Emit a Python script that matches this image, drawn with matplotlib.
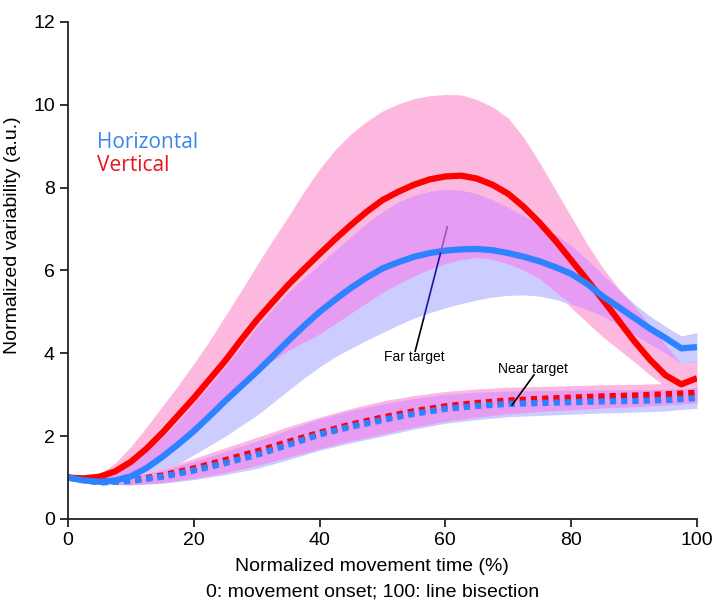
import numpy as np
import matplotlib
matplotlib.use('Agg')
import matplotlib.pyplot as plt

plt.rcParams['font.family'] = ['Liberation Sans', 'DejaVu Sans']

# normalized movement time (%), far target curves
t_far = [0, 2.5, 5, 7.5, 10, 12.5, 15, 17.5, 20, 22.5, 25, 27.5, 30, 32.5, 35, 37.5, 40,
         42.5, 45, 47.5, 50, 52.5, 55, 57.5, 60, 62.5, 65, 67.5, 70, 72.5, 75, 77.5, 80,
         82.5, 85, 87.5, 90, 92.5, 95, 97.5, 100]

# far target, vertical (red)
far_v_mean = [1.0, 0.98, 1.02, 1.15, 1.38, 1.7, 2.08, 2.5, 2.92, 3.37, 3.82, 4.32, 4.8,
              5.23, 5.65, 6.03, 6.4, 6.76, 7.1, 7.42, 7.7, 7.9, 8.07, 8.2, 8.27, 8.29,
              8.22, 8.07, 7.85, 7.53, 7.15, 6.72, 6.25, 5.78, 5.3, 4.8, 4.3, 3.85, 3.47,
              3.25, 3.4]
far_v_hi = [1.0, 1.0, 1.08, 1.35, 1.75, 2.22, 2.72, 3.22, 3.75, 4.3, 4.9, 5.5, 6.12, 6.72,
            7.3, 7.9, 8.45, 8.92, 9.3, 9.6, 9.85, 10.02, 10.15, 10.22, 10.25, 10.24, 10.13,
            9.95, 9.68, 9.2, 8.6, 7.95, 7.3, 6.65, 6.07, 5.58, 5.15, 4.68, 4.2, 3.75, 3.8]
far_v_lo = [1.0, 0.96, 0.95, 1.0, 1.08, 1.25, 1.5, 1.78, 2.08, 2.43, 2.8, 3.15, 3.5, 3.8,
            4.05, 4.25, 4.45, 4.7, 4.95, 5.2, 5.45, 5.66, 5.85, 6.02, 6.15, 6.25, 6.3,
            6.26, 6.15, 6.0, 5.8, 5.48, 5.1, 4.75, 4.4, 4.1, 3.8, 3.48, 3.2, 3.0, 3.05]

# far target, horizontal (blue)
far_h_mean = [1.0, 0.93, 0.9, 0.93, 1.03, 1.23, 1.5, 1.8, 2.12, 2.48, 2.85, 3.2, 3.55,
              3.92, 4.3, 4.66, 5.0, 5.3, 5.58, 5.83, 6.05, 6.2, 6.33, 6.42, 6.48, 6.51,
              6.52, 6.49, 6.42, 6.33, 6.22, 6.08, 5.92, 5.68, 5.38, 5.12, 4.86, 4.6, 4.37,
              4.12, 4.15]
far_h_hi = [1.0, 0.98, 0.98, 1.1, 1.3, 1.6, 1.95, 2.33, 2.75, 3.2, 3.65, 4.12, 4.6, 5.03,
            5.45, 5.8, 6.12, 6.47, 6.8, 7.12, 7.4, 7.63, 7.8, 7.9, 7.95, 7.93, 7.85, 7.7,
            7.52, 7.32, 7.1, 6.86, 6.6, 6.27, 5.9, 5.55, 5.2, 4.9, 4.65, 4.42, 4.5]
far_h_lo = [1.0, 0.9, 0.85, 0.85, 0.9, 1.0, 1.15, 1.33, 1.55, 1.77, 2.0, 2.25, 2.5, 2.8,
            3.1, 3.4, 3.67, 3.92, 4.12, 4.32, 4.5, 4.68, 4.85, 4.98, 5.1, 5.2, 5.29, 5.36,
            5.4, 5.41, 5.38, 5.3, 5.18, 5.05, 4.9, 4.68, 4.45, 4.22, 4.0, 3.75, 3.78]

# near target curves
t_near = [0, 5, 10, 15, 20, 25, 30, 35, 40, 45, 50, 55, 60, 65, 70, 75, 80, 85, 90, 95, 98, 100]
near_v_mean = [1.0, 0.9, 0.93, 1.05, 1.22, 1.42, 1.63, 1.86, 2.08, 2.28, 2.45, 2.6, 2.72,
               2.8, 2.86, 2.9, 2.93, 2.96, 2.98, 3.01, 3.03, 3.05]
near_v_sd = [0.0, 0.05, 0.1, 0.17, 0.24, 0.3, 0.34, 0.37, 0.38, 0.39, 0.4, 0.38, 0.36,
             0.34, 0.32, 0.3, 0.29, 0.28, 0.27, 0.26, 0.25, 0.25]
near_h_mean = [1.0, 0.88, 0.92, 1.02, 1.17, 1.35, 1.55, 1.79, 2.04, 2.23, 2.39, 2.54, 2.66,
               2.73, 2.78, 2.8, 2.82, 2.84, 2.85, 2.87, 2.9, 2.92]
near_h_sd = [0.0, 0.05, 0.1, 0.16, 0.22, 0.28, 0.33, 0.36, 0.38, 0.39, 0.39, 0.37, 0.35,
             0.33, 0.31, 0.3, 0.29, 0.28, 0.27, 0.26, 0.25, 0.25]

RED = '#ff0000'
BLUE = '#2d82ff'
PINK = '#fdb8df'
LAV = '#ccccff'
MIX = '#e69cf2'


def bands(ax, x, lo_v, hi_v, lo_h, hi_h):
    x = np.asarray(x, float)
    lo_v, hi_v = np.asarray(lo_v), np.asarray(hi_v)
    lo_h, hi_h = np.asarray(lo_h), np.asarray(hi_h)
    ax.fill_between(x, lo_v, hi_v, color=PINK, lw=0)
    ax.fill_between(x, lo_h, hi_h, color=LAV, lw=0)
    lo = np.maximum(lo_v, lo_h)
    hi = np.minimum(hi_v, hi_h)
    ax.fill_between(x, lo, hi, where=hi > lo, interpolate=True, color=MIX, lw=0)


fig = plt.figure(figsize=(7.2, 6.06), dpi=100)
ax = fig.add_axes([0.0944, 0.1436, 0.8736, 0.8201])

bands(ax, t_far, far_v_lo, far_v_hi, far_h_lo, far_h_hi)
nv = np.array(near_v_mean); nvs = np.array(near_v_sd)
nh = np.array(near_h_mean); nhs = np.array(near_h_sd)
bands(ax, t_near, nv - nvs, nv + nvs, nh - nhs, nh + nhs)

dot = (0, (1, 0.8))
ax.plot(t_near, near_v_mean, color=RED, lw=4.5, ls=dot, dash_capstyle='butt')
ax.plot(t_near, near_h_mean, color=BLUE, lw=4.5, ls=dot, dash_capstyle='butt')
ax.plot(t_far, far_v_mean, color=RED, lw=4.5, solid_capstyle='butt', solid_joinstyle='round')
ax.plot(t_far, far_h_mean, color=BLUE, lw=4.5, solid_capstyle='butt', solid_joinstyle='round')


# annotation lines (colour changes as it crosses the bands)
def seg(y0, y1, p0, p1, color):
    (xa, ya), (xb, yb) = p0, p1
    f = lambda y: xa + (xb - xa) * (y - ya) / (yb - ya)
    ax.plot([f(y0), f(y1)], [y0, y1], color=color, lw=1.2)


p0, p1 = (55.2, 4.05), (60.3, 7.05)
seg(4.05, 4.85, p0, p1, 'black')
seg(4.85, 6.45, p0, p1, '#1818a0')
seg(6.45, 7.05, p0, p1, '#9a58b8')
ax.text(55.0, 3.9, 'Far target', fontsize=10, ha='center', va='center')
ax.plot([74.1, 70.6], [3.48, 2.75], color='black', lw=1.2)
ax.text(74.0, 3.63, 'Near target', fontsize=10, ha='center', va='center')

ax.text(4.6, 9.08, 'Horizontal', color='#3a86f0', fontsize=15,
        family=['Open Sans', 'DejaVu Sans'], va='center')
ax.text(4.6, 8.53, 'Vertical', color='#e8141c', fontsize=15,
        family=['Open Sans', 'DejaVu Sans'], va='center')

ax.set_xlim(0, 100)
ax.set_ylim(0, 12)
ax.set_xticks([0, 20, 40, 60, 80, 100])
ax.set_yticks([0, 2, 4, 6, 8, 10, 12])
for s in ['top', 'right']:
    ax.spines[s].set_visible(False)
for s in ['left', 'bottom']:
    ax.spines[s].set_linewidth(1.3)
    ax.spines[s].set_color('#222222')
ax.tick_params(direction='out', length=6, width=1.3, labelsize=14, color='#222222')

fig.text(0.517, 0.0644, 'Normalized movement time (%)', fontsize=14, ha='center', va='center')
fig.text(0.517, 0.0231, '0: movement onset; 100: line bisection', fontsize=14,
         ha='center', va='center')
fig.text(0.0167, 0.612, 'Normalized variability (a.u.)', fontsize=14, rotation=90,
         ha='center', va='center')

fig.savefig('out.png', dpi=100)
